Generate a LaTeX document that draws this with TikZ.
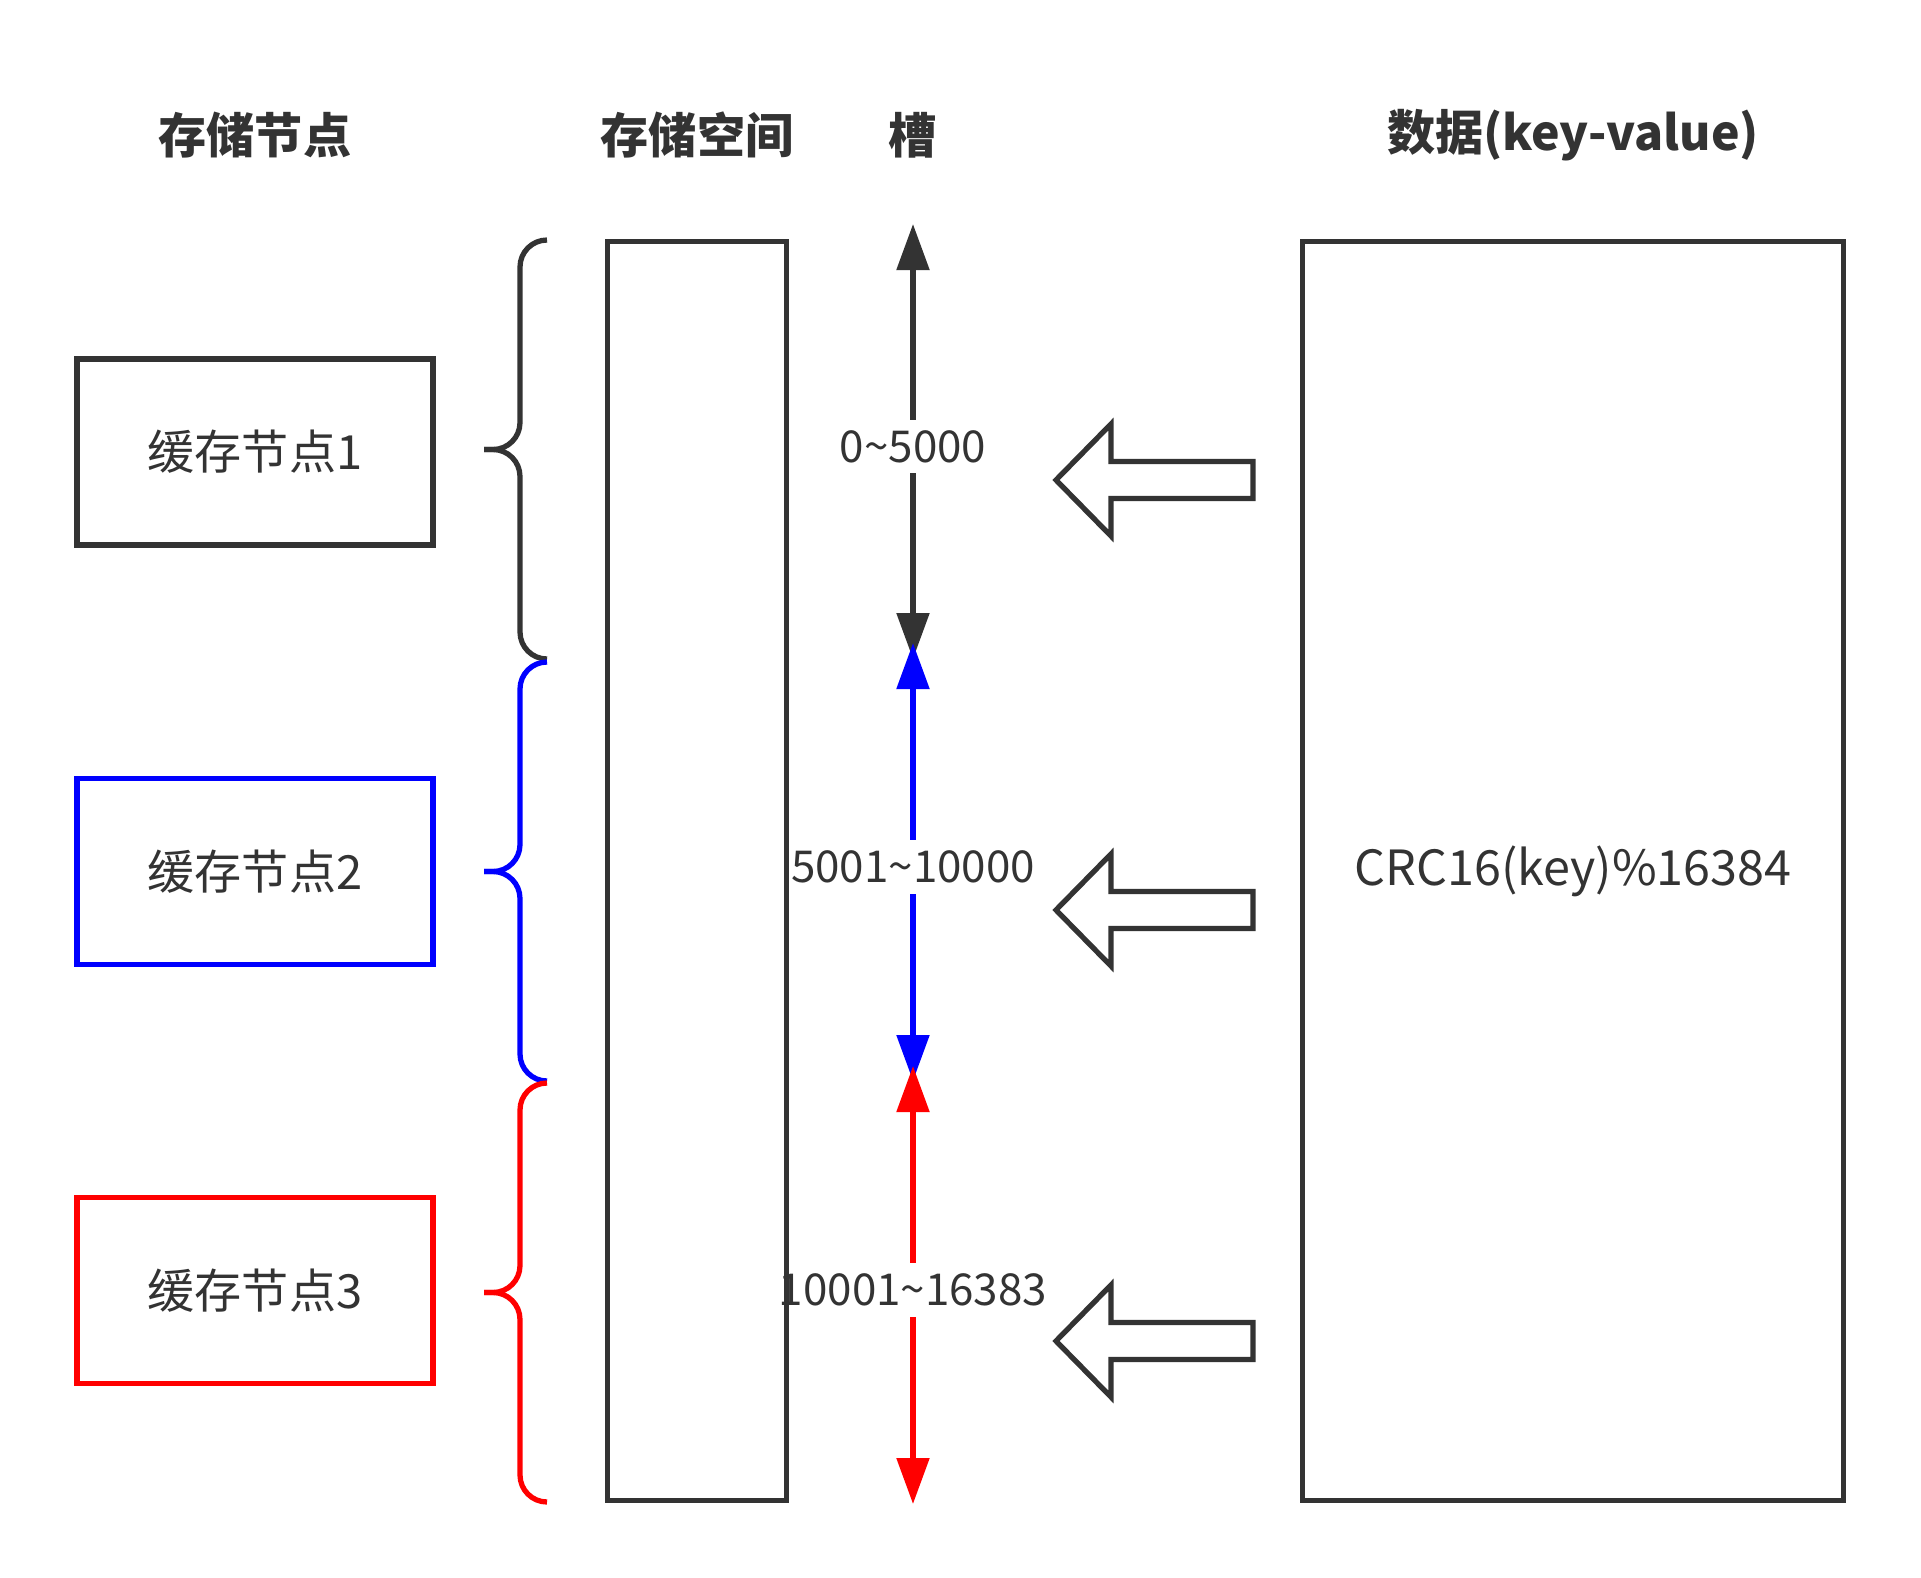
\documentclass[tikz,border=0pt]{standalone}
\usepackage{fontspec}
\setmainfont{Noto Sans CJK SC}
\usetikzlibrary{arrows.meta,positioning}
\definecolor{inkgray}{HTML}{333333}
\definecolor{slotblue}{HTML}{0000FF}
\definecolor{slotred}{HTML}{FF0000}

\begin{document}
\begin{tikzpicture}[
        node distance=2.28cm, % Distance between cache boxes
        cache/.style={draw, line width=1.5pt, minimum width=3.56cm, minimum height=1.86cm, align=center, font=\fontsize{13.4pt}{16pt}\selectfont}, % Cache node boxes
        column/.style={draw=inkgray, line width=1.5pt, minimum height=12.59cm}, % Tall boxes
        header/.style={text=inkgray, font=\bfseries\fontsize{13.7pt}{16pt}\selectfont}, % Column titles
        rangelabel/.style={fill=white, text=inkgray, inner sep=3pt, yshift=-0.05cm, font=\fontsize{12.5pt}{15pt}\selectfont}, % Slot ranges
        slotline/.style={line width=1.5pt, {Triangle[width=0.32cm,length=0.46cm]}-{Triangle[width=0.32cm,length=0.46cm]}}, % Slot arrows
        bracegroup/.style={line width=1.5pt, rounded corners=0.27cm}, % Braces
        blockarrow/.style={draw=inkgray, line width=1.5pt, fill=white} % Hollow arrows
        ]
        \useasboundingbox (0,0) rectangle (19.21,-15.78);

        % Define nodes
        \node (c1) [cache, draw=inkgray, text=inkgray] at (2.55,-4.52) {缓存节点1};
        \node (c2) [cache, draw=slotblue, text=inkgray, below=of c1] {缓存节点2};
        \node (c3) [cache, draw=slotred, text=inkgray, below=of c2] {缓存节点3};

        \node (data) [column, minimum width=5.41cm, text=inkgray, font=\fontsize{13.8pt}{17pt}\selectfont] at (15.73,-8.71) {CRC16(key)\%16384};

        % Slot ends
        \coordinate (s0) at (9.13,-2.24);
        \coordinate (s1) at (9.13,-6.59);
        \coordinate (s2) at (9.13,-6.43);
        \coordinate (s3) at (9.13,-10.81);
        \coordinate (s4) at (9.13,-10.66);
        \coordinate (s5) at (9.13,-15.04);

        % Draw slot arrows
        \draw[slotline, inkgray] (s0) -- (s1) node[midway, rangelabel] {0\textasciitilde5000};
        \draw[slotline, slotblue] (s2) -- (s3) node[midway, rangelabel] {5001\textasciitilde10000};
        \draw[slotline, slotred] (s4) -- (s5) node[midway, rangelabel] {10001\textasciitilde16383};

        % Storage space (drawn after the labels)
        \node (space) [column, minimum width=1.79cm] at (6.97,-8.71) {};

        % Draw braces
        \foreach \col/\ya/\yb in {inkgray/-2.40/-6.59, slotblue/-6.62/-10.81, slotred/-10.83/-15.02} {
            \draw[bracegroup, \col] (5.47,\ya) -- (5.20,\ya) -- (5.20,{(\ya+\yb)/2}) -- (4.84,{(\ya+\yb)/2});
            \draw[bracegroup, \col] (4.84,{(\ya+\yb)/2}) -- (5.20,{(\ya+\yb)/2}) -- (5.20,\yb) -- (5.47,\yb);
        }

        % Draw hollow arrows
        \foreach \c in {-4.80,-9.10,-13.41}
            \draw[blockarrow] (10.56,\c) -- ++(0.55,0.56) -- ++(0,-0.375) -- ++(1.42,0)
                -- ++(0,-0.37) -- ++(-1.42,0) -- ++(0,-0.375) -- cycle;

        % Column titles
        \node (hcache) [header] at (2.55,-1.35) {存储节点};
        \node (hspace) [header] at (hcache -| space) {存储空间};
        \node (hslot) [header] at (hcache -| s0) {槽};
        \node (hdata) [header] at (hcache -| data) {数据(key-value)};

    \end{tikzpicture}
\end{document}
